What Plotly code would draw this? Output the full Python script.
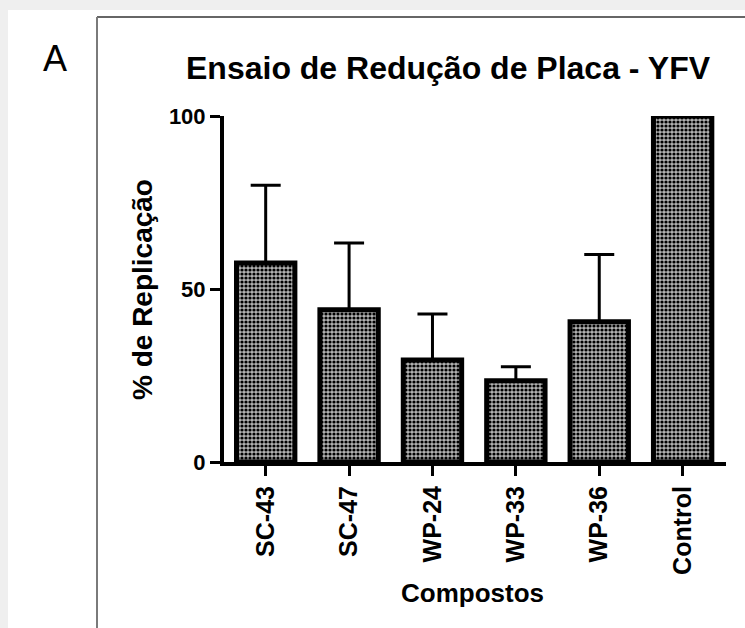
import plotly.graph_objects as go

# Plaque reduction assay, YFV: % replication per compound (mean + upper SD)
compostos = ["SC-43", "SC-47", "WP-24", "WP-33", "WP-36", "Control"]
replicacao = [57.5, 44.0, 29.5, 23.5, 40.5, 100.0]
desvio = [22.5, 19.3, 13.3, 4.0, 19.5, None]
y_ticks = [0, 50, 100]

W, H = 745, 628
# plot-area box in pixels
L, R, T, B = 224, 726, 116, 462
FONT = "Liberation Sans, Arial, sans-serif"


def px(x):
    return (x - L) / (R - L)


def py(y):
    return (B - y) / (B - T)


fig = go.Figure()
fig.add_trace(go.Bar(
    x=compostos,
    y=replicacao,
    marker=dict(
        color="white",
        line=dict(color="black", width=5),
        pattern=dict(shape=".", size=4, solidity=0.5,
                     fgcolor="black", bgcolor="#b2b2b2", fillmode="replace"),
    ),
    error_y=dict(type="data", array=desvio, arrayminus=[0] * len(desvio),
                 symmetric=False, color="black", thickness=3, width=15),
    cliponaxis=False,
    showlegend=False,
))

shapes = [
    # light outer page band
    dict(type="rect", xref="paper", yref="paper", x0=px(0), x1=px(W), y0=py(0), y1=py(H),
         fillcolor="#efefef", line=dict(width=0), layer="below"),
    dict(type="rect", xref="paper", yref="paper", x0=px(8), x1=px(W), y0=py(10), y1=py(H),
         fillcolor="white", line=dict(width=0), layer="below"),
    # panel frame
    dict(type="line", xref="paper", yref="paper", x0=px(97), x1=px(W + 5), y0=py(17), y1=py(17),
         line=dict(color="#666666", width=2)),
    dict(type="line", xref="paper", yref="paper", x0=px(97), x1=px(97), y0=py(17), y1=py(H + 5),
         line=dict(color="#7a7a7a", width=2)),
]

annotations = [
    dict(text="A", x=px(55), y=py(58), xref="paper", yref="paper", showarrow=False,
         font=dict(family=FONT, size=36, color="black"), xanchor="center", yanchor="middle"),
    dict(text="<b>Ensaio de Redução de Placa - YFV</b>", x=px(448), y=py(68),
         xref="paper", yref="paper", showarrow=False,
         font=dict(family=FONT, size=32, color="black"), xanchor="center", yanchor="middle"),
    dict(text="<b>% de Replicação</b>", x=px(142), y=py(290), textangle=-90,
         xref="paper", yref="paper", showarrow=False,
         font=dict(family=FONT, size=28, color="black"), xanchor="center", yanchor="middle"),
    dict(text="<b>Compostos</b>", x=px(472), y=py(593),
         xref="paper", yref="paper", showarrow=False,
         font=dict(family=FONT, size=26, color="black"), xanchor="center", yanchor="middle"),
]

fig.update_layout(
    width=W, height=H,
    margin=dict(l=L, r=W - R, t=T, b=H - B, pad=0),
    paper_bgcolor="white", plot_bgcolor="rgba(0,0,0,0)",
    bargap=0.30,
    shapes=shapes,
    annotations=annotations,
    font=dict(family=FONT, color="black"),
)
fig.update_xaxes(
    range=[-0.5, 5.52], showline=True, linecolor="black", linewidth=4,
    ticks="outside", ticklen=10, tickwidth=3, tickcolor="black",
    tickangle=-90, tickfont=dict(family=FONT, size=25, color="black", weight="bold"),
    showgrid=False, zeroline=False,
)
fig.update_yaxes(
    range=[0, 100], tickvals=y_ticks, showline=True, linecolor="black", linewidth=4,
    ticks="outside", ticklen=10, tickwidth=3, tickcolor="black",
    tickfont=dict(family=FONT, size=22, color="black", weight="bold"),
    showgrid=False, zeroline=False,
)

fig.write_html("out.html")
